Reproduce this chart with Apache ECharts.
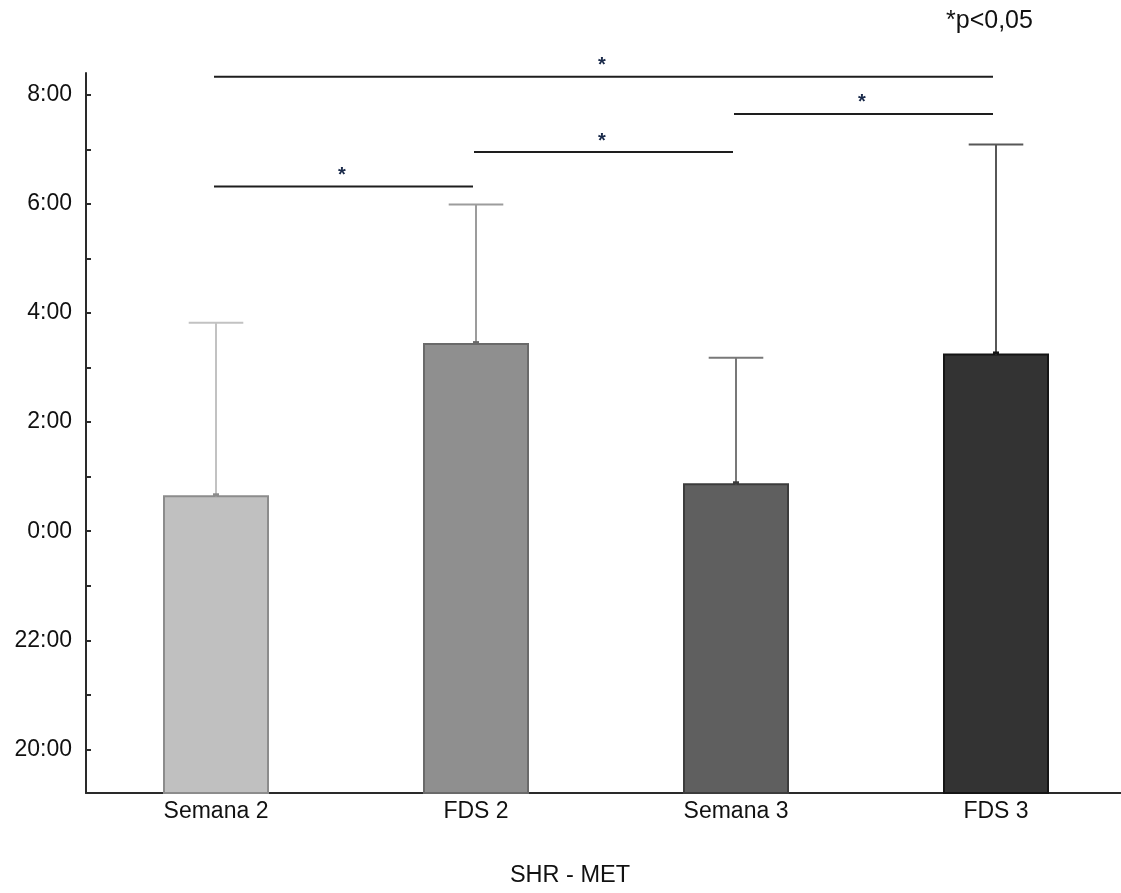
<!DOCTYPE html>
<html>
<head>
<meta charset="utf-8">
<title>SHR - MET</title>
<script src="https://cdn.jsdelivr.net/npm/echarts@6/dist/echarts.min.js"></script>
<style>
  html, body { margin: 0; padding: 0; background: #ffffff; overflow: hidden; }
  #chart { width: 1130px; height: 893px; }
</style>
</head>
<body>
<div id="chart"></div>
<script>
// Groups on the x axis
const categories = ['Semana 2', 'FDS 2', 'Semana 3', 'FDS 3'];
// Mean clock time in hours relative to midnight (negative = previous evening)
const means = [0.64, 3.43, 0.86, 3.24];
// Upper end of the error bar (mean + SD), same units
const upperErr = [3.82, 5.99, 3.18, 7.09];
// Tick positions (hours) and the ones that carry a label
const tickHours = [-4, -3, -2, -1, 0, 1, 2, 3, 4, 5, 6, 7, 8];
const labelHours = [-4, -2, 0, 2, 4, 6, 8];
// Significance brackets: [from category, to category, height in hours]
const brackets = [
  [0, 1, 6.32],
  [1, 2, 6.95],
  [2, 3, 7.65],
  [0, 3, 8.33]
];

const Y_MIN = -4.8, Y_MAX = 8.4;
const fills   = ['#c0c0c0', '#8f8f8f', '#5f5f5f', '#333333'];
const borders = ['#8c8c8c', '#6a6a6a', '#3c3c3c', '#151515'];
const whisker = ['#c2c2c2', '#9c9c9c', '#787878', '#575757'];
const FONT = '"Liberation Sans", Arial, sans-serif';

function fmtHour(v) {
  const h = ((Math.round(v) % 24) + 24) % 24;
  return h + ':00';
}

const chart = echarts.init(document.getElementById('chart'), null, { renderer: 'canvas' });

chart.setOption({
  animation: false,
  backgroundColor: '#ffffff',
  grid: { left: 86, top: 73, width: 1040, height: 720, containLabel: false },
  xAxis: {
    type: 'category',
    data: categories,
    boundaryGap: true,
    axisLine: { show: true, onZero: false, lineStyle: { color: '#2a2a2a', width: 2 } },
    axisTick: { show: false },
    axisLabel: { color: '#111', fontFamily: FONT, fontSize: 23, margin: 7 },
    splitLine: { show: false }
  },
  yAxis: {
    type: 'value',
    min: Y_MIN,
    max: Y_MAX,
    axisLine: { show: true, onZero: false, lineStyle: { color: '#2a2a2a', width: 2 } },
    axisTick: { show: true, inside: true, length: 5, customValues: tickHours,
                lineStyle: { color: '#2a2a2a', width: 2 } },
    axisLabel: { customValues: labelHours, formatter: fmtHour, color: '#111',
                 fontFamily: FONT, fontSize: 23, margin: 14 },
    splitLine: { show: false }
  },
  graphic: [
    { type: 'text', left: 946, top: 9,
      style: { text: '*p<0,05', fill: '#111', font: '25px ' + FONT } },
    { type: 'text', x: 570, y: 876,
      style: { text: 'SHR - MET', fill: '#111', font: '23.5px ' + FONT,
               align: 'center', verticalAlign: 'middle' } }
  ],
  series: [
    {
      // bars rising from the bottom of the axis
      type: 'custom',
      name: 'bars',
      data: means.map((m, i) => [i, m]),
      encode: { x: 0, y: 1 },
      renderItem: function (params, api) {
        const i = api.value(0);
        const top = api.coord([i, api.value(1)]);
        const base = api.coord([i, Y_MIN]);
        const w = api.size([1, 0])[0] * 0.4;
        return {
          type: 'rect',
          shape: { x: top[0] - w / 2, y: top[1], width: w, height: base[1] - top[1] },
          style: { fill: fills[i], stroke: borders[i], lineWidth: 2 }
        };
      },
      z: 2
    },
    {
      // upper error bars with caps
      type: 'custom',
      name: 'errors',
      data: means.map((m, i) => [i, m, upperErr[i]]),
      encode: { x: 0, y: [1, 2] },
      renderItem: function (params, api) {
        const i = api.value(0);
        const lo = api.coord([i, api.value(1)]);
        const hi = api.coord([i, api.value(2)]);
        const cap = api.size([1, 0])[0] * 0.21;
        return {
          type: 'group',
          children: [
            { type: 'line', shape: { x1: lo[0], y1: lo[1], x2: hi[0], y2: hi[1] },
              style: { stroke: whisker[i], lineWidth: 2 } },
            { type: 'line', shape: { x1: hi[0] - cap / 2, y1: hi[1], x2: hi[0] + cap / 2, y2: hi[1] },
              style: { stroke: whisker[i], lineWidth: 2 } },
            { type: 'rect', shape: { x: lo[0] - 3, y: lo[1] - 3, width: 6, height: 3 },
              style: { fill: borders[i] } }
          ]
        };
      },
      z: 3
    },
    {
      // significance brackets with asterisks
      type: 'custom',
      name: 'brackets',
      data: brackets,
      encode: { x: [0, 1], y: 2 },
      renderItem: function (params, api) {
        const a = api.coord([api.value(0), api.value(2)]);
        const b = api.coord([api.value(1), api.value(2)]);
        return {
          type: 'group',
          children: [
            { type: 'line', shape: { x1: a[0] - 2, y1: a[1], x2: b[0] - 3, y2: b[1] },
              style: { stroke: '#1e1e1e', lineWidth: 2 } },
            { type: 'text', x: (a[0] + b[0]) / 2 - 4, y: a[1] - 11,
              style: { text: '*', fill: '#1a2a4a', font: 'bold 20px ' + FONT,
                       align: 'center', verticalAlign: 'middle' } }
          ]
        };
      },
      z: 4
    }
  ]
});
</script>
</body>
</html>
